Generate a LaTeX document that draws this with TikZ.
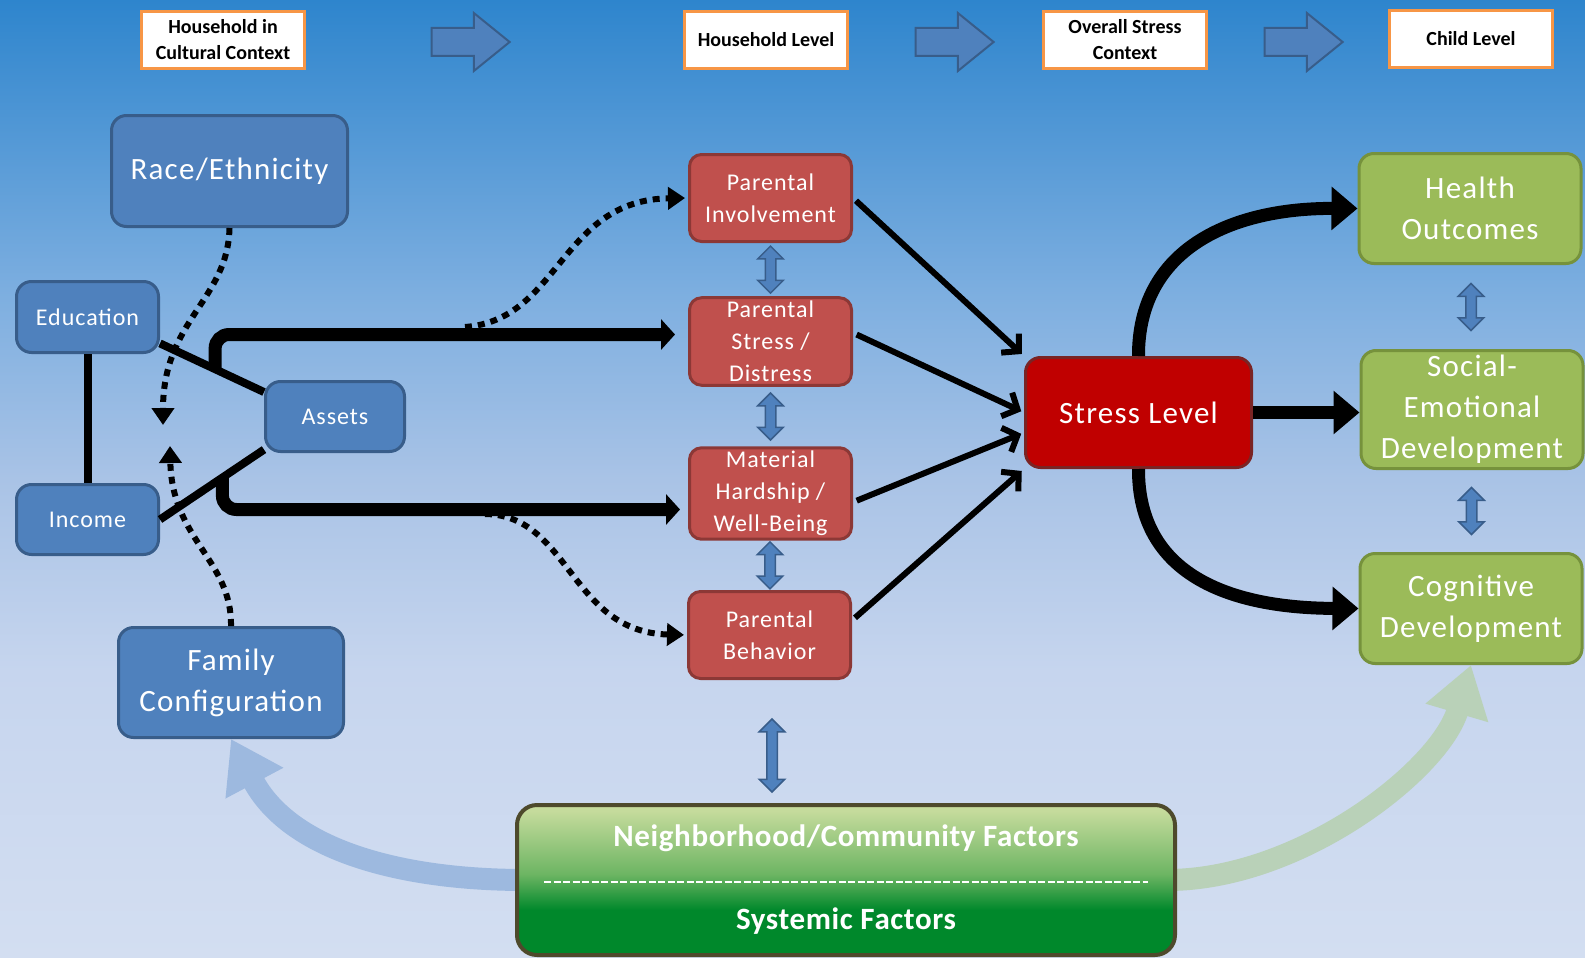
\documentclass[tikz,border=0pt]{standalone}
\usepackage{fontspec}
\setmainfont{Carlito}
\newfontfamily\boxfont{Carlito}[LetterSpace=4]
\newfontfamily\commfont{Carlito}[LetterSpace=2]
\usetikzlibrary{arrows.meta,positioning,calc,shapes.arrows}

\definecolor{bgtop}{HTML}{2E85CD}
\definecolor{bgupper}{HTML}{7EAFE0}
\definecolor{bgmid}{HTML}{A9C3E6}
\definecolor{bglow}{HTML}{C6D5EE}
\definecolor{bgbot}{HTML}{D3DEF1}
\definecolor{boxblue}{HTML}{4F81BD}
\definecolor{edgeblue}{HTML}{385D8A}
\definecolor{boxred}{HTML}{C0504D}
\definecolor{edgered}{HTML}{8C3836}
\definecolor{stressred}{HTML}{C00000}
\definecolor{edgestress}{HTML}{7A2424}
\definecolor{boxgreen}{HTML}{9BBB59}
\definecolor{edgegreen}{HTML}{76923C}
\definecolor{hdrorange}{HTML}{F79646}
\definecolor{ltgreen}{HTML}{C5DB9C}
\definecolor{midgreen}{HTML}{6DB563}
\definecolor{dkgreen}{HTML}{00882B}
\definecolor{edgecomm}{HTML}{4E4A2C}
\definecolor{fadeblue}{HTML}{9DB9DF}
\definecolor{fadegreen}{HTML}{B9D1B8}

% tikz maps the path onto the middle 25bp--75bp of a shading
\pgfdeclareverticalshading{bgshade}{100bp}{color(0bp)=(bgbot); color(25bp)=(bgbot); color(40bp)=(bglow); color(50bp)=(bgmid); color(59.5bp)=(bgupper); color(75bp)=(bgtop); color(100bp)=(bgtop)}
\pgfdeclareverticalshading{commshade}{100bp}{color(0bp)=(dkgreen); color(40bp)=(dkgreen); color(52bp)=(midgreen); color(73bp)=(ltgreen); color(100bp)=(ltgreen)}

\pgfdeclarelayer{back}
\pgfsetlayers{back,main}

\tikzset{
  hdr/.style={draw=hdrorange, line width=3pt, fill=white, minimum width=163pt, minimum height=57pt, align=center, inner sep=2pt, font=\bfseries\fontsize{20}{26}\selectfont},
  bluebox/.style={draw=edgeblue, line width=3pt, fill=boxblue, rounded corners=15pt, text=white, align=center},
  redbox/.style={draw=edgered, line width=3pt, fill=boxred, rounded corners=12pt, text=white, align=center, minimum width=162pt, minimum height=87pt, font=\boxfont\fontsize{24}{32}\selectfont},
  greenbox/.style={draw=edgegreen, line width=3pt, fill=boxgreen, rounded corners=15pt, text=white, align=center, font=\boxfont\fontsize{31}{41}\selectfont},
  bigfont/.style={font=\boxfont\fontsize{31}{41}\selectfont},
  smallfont/.style={font=\boxfont\fontsize{24}{32}\selectfont},
  flowarrow/.style={single arrow, draw=edgeblue, line width=2pt, fill=boxblue, minimum height=78pt, inner xsep=0pt, inner ysep=13pt, single arrow head extend=15pt, single arrow tip angle=78},
  updown/.style={double arrow, rotate=90, draw=edgeblue, line width=1.5pt, fill=boxblue, inner xsep=0pt, inner ysep=4.5pt, double arrow head extend=7.5pt},
  solidlink/.style={line width=8pt},
  thickarrow/.style={line width=13pt, -{Triangle[width=30pt,length=14pt]}},
  leadarrow/.style={line width=6pt, shorten <=4pt, shorten >=3pt, -{Straight Barb[length=12pt,width=26pt]}},
  outarrow/.style={line width=13pt, -{Triangle[width=42pt,length=26pt]}},
  dotarrow/.style={line width=6pt, dash pattern=on 7pt off 6pt, -{Triangle[width=22pt,length=17pt]}},
  fadearrow/.style={line width=22pt, -{Triangle[width=62pt,length=50pt]}},
}

\begin{document}
\begin{tikzpicture}[x=1pt,y=-1pt]
\useasboundingbox (0,0) rectangle (1585,958);

% header row
\node[hdr] (hcult) at (223,40) {Household in\\Cultural Context};
\node[hdr] (hhouse) at (766,40) {Household Level};
\node[hdr] (hstress) at (1125,40) {Overall Stress\\Context};
\node[hdr] (hchild) at (1471,39) {Child Level};
\node[flowarrow] (fa1) at (462,42) {};
\node[flowarrow] (fa2) at (946,42) {};
\node[flowarrow] (fa3) at (1295,42) {};

% household in cultural context
\node[bluebox, bigfont, minimum width=236pt, minimum height=111pt] (race) at (229.5,171) {Race/Ethnicity};
\node[bluebox, smallfont, minimum width=142pt, minimum height=71pt] (educ) at (87.5,317) {Education};
\node[bluebox, smallfont, minimum width=139pt, minimum height=70pt] (assets) at (335,416.5) {Assets};
\node[bluebox, smallfont, minimum width=142pt, minimum height=70pt] (income) at (87.5,519.5) {Income};
\node[bluebox, bigfont, minimum width=225pt, minimum height=110pt] (family) at (231,682.5) {Family\\Configuration};

% household level
\node[redbox] (pinv) at (770.5,198) {Parental\\Involvement};
\node[redbox] (pstress) at (770.5,341.5) {Parental\\Stress /\\Distress};
\node[redbox] (mhard) at (770.5,493.5) {Material\\Hardship /\\Well-Being};
\node[redbox] (pbeh) at (769.5,635) {Parental\\Behavior};

\node[updown, minimum height=47pt] (ud1) at ($(pinv.south)!0.5!(pstress.north)$) {};
\node[updown, minimum height=47pt] (ud2) at ($(pstress.south)!0.5!(mhard.north)$) {};
\node[updown, minimum height=47pt] (ud3) at ($(mhard.south)!0.5!(pbeh.north)$) {};

% overall stress
\node[draw=edgestress, line width=3pt, fill=stressred, rounded corners=15pt, text=white, bigfont, minimum width=226pt, minimum height=110pt] (stress) at (1138.5,412.5) {Stress Level};

% child level
\node[greenbox, minimum width=222pt, minimum height=110pt] (health) at (1470,208.5) {Health\\Outcomes};
\node[greenbox, minimum width=222pt, minimum height=118pt] (social) at (1472,409.5) {Social-\\Emotional\\Development};
\node[greenbox, minimum width=222pt, minimum height=110pt] (cognitive) at (1471,608.5) {Cognitive\\Development};

\node[updown, minimum height=47pt] (ud4) at ($(health.south)!0.5!(social.north)$) {};
\node[updown, minimum height=47pt] (ud5) at ($(social.south)!0.5!(cognitive.north)$) {};

% community
\node[draw=edgecomm, line width=4pt, shading=commshade, rounded corners=20pt, text=white, align=center, minimum width=658pt, minimum height=150pt, font=\commfont\bfseries\fontsize{31}{83}\selectfont] (comm) at (846,880) {Neighborhood/Community Factors\\Systemic Factors};
\draw[white, line width=2.5pt, dash pattern=on 7pt off 2.5pt] ([xshift=-302pt,yshift=-2pt]comm.center) -- ([xshift=302pt,yshift=-2pt]comm.center);
\node[updown, minimum height=73pt] (ud6) at (772,755.5) {};

% background and faded loops
\begin{pgfonlayer}{back}
\fill[shading=bgshade] (0,0) rectangle (1585,958);
\draw[fadearrow, fadeblue] ([xshift=10pt]comm.west) .. controls (400,880) and (290,850) .. (family.south);
\draw[fadearrow, fadegreen] ([xshift=-10pt]comm.east) .. controls (1300,880) and (1440,770) .. (cognitive.south);
\end{pgfonlayer}

% links inside the cultural context
\draw[solidlink] (educ.south) -- (income.north);
\draw[solidlink] (educ.-20) -- (assets.161);
\draw[solidlink] (income.east) -- (assets.205);

\draw[thickarrow, rounded corners=14pt] ($(educ.-20)!0.53!(assets.161)$) |- ([xshift=-13pt,yshift=7pt]pstress.west);
\draw[thickarrow, rounded corners=14pt] ($(income.east)!0.6!(assets.205)$) |- ([xshift=-8pt,yshift=-16pt]mhard.west);

\coordinate (raceend) at (163,425);
\coordinate (famend) at (170,446);
\coordinate (upstart) at (465,327);
\coordinate (lowstart) at (485,514);
\draw[dotarrow] (race.south) .. controls (228,300) and (163,320) .. (raceend);
\draw[dotarrow] (family.north) .. controls (232,560) and (172,540) .. (famend);
\draw[dotarrow, shorten >=3pt] (upstart) .. controls (560,320) and (560,200) .. (pinv.west);
\draw[dotarrow, shorten >=3pt] (lowstart) .. controls (570,515) and (570,632) .. (pbeh.west);

% into stress level
\draw[leadarrow] (pinv.east) -- (stress.north west);
\draw[leadarrow] (pstress.6) -- (stress.west);
\draw[leadarrow] (mhard.-6) -- (stress.190);
\draw[leadarrow] (pbeh.10) -- (stress.south west);

% out to child level
\draw[outarrow] (stress.north) .. controls (1138,250) and (1230,208) .. (health.west);
\draw[outarrow] (stress.east) -- (stress.east -| social.west);
\draw[outarrow] (stress.south) .. controls (1138,575) and (1230,608) .. (cognitive.west);
\end{tikzpicture}
\end{document}
